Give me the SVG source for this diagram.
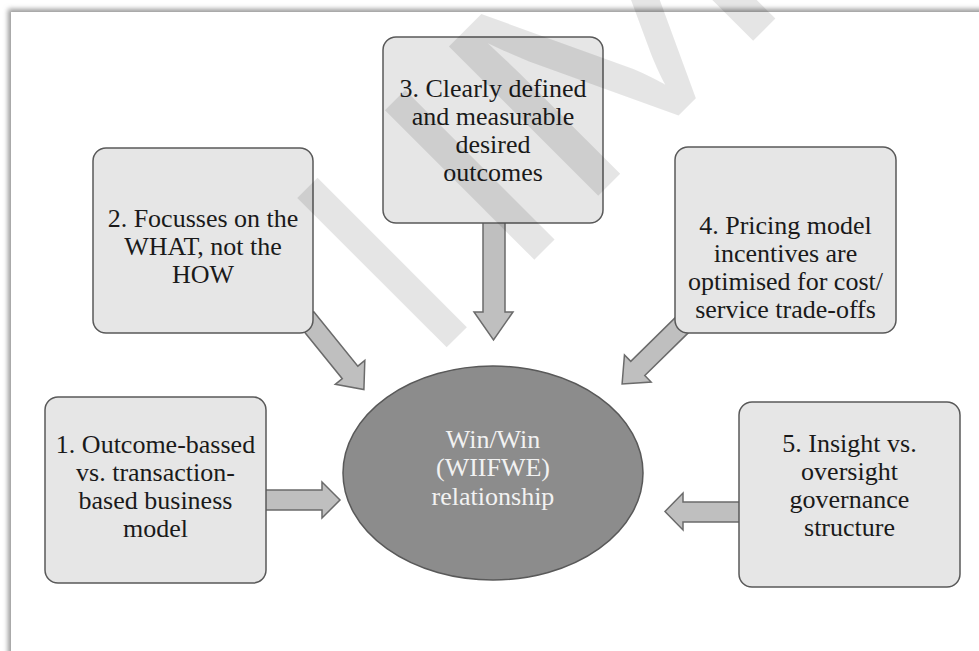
<svg xmlns="http://www.w3.org/2000/svg" width="979" height="651" viewBox="0 0 979 651">
<defs>
<filter id="blur" x="-5%" y="-5%" width="110%" height="110%"><feGaussianBlur stdDeviation="2.5"/></filter>
<style>
.box{fill:#e6e6e6;stroke:#595959;stroke-width:1.5}
.arr{fill:#bfbfbf;stroke:#6b6b6b;stroke-width:1.5;stroke-linejoin:miter}
.t{font-family:"Liberation Serif","DejaVu Serif",serif;font-size:26px;fill:#1a1a1a;text-anchor:middle}
.tw{fill:#f2f2f2}
.wm{font-family:"Liberation Sans",Arial,sans-serif;font-size:307px;fill:#000;fill-opacity:0.1}
</style>
</defs>
<rect x="0" y="0" width="979" height="651" fill="#ffffff"/>
<rect x="8" y="9" width="1000" height="700" fill="#9a9a9a" filter="url(#blur)"/>
<rect x="11" y="12" width="1000" height="700" fill="#ffffff"/>

<g id="connectors">
<polygon class="arr" points="483,220 505,220 505,312 513,312 493.5,340 474,312 483,312"/>
<polygon class="arr" points="262,490 322,490 322,482 340,500 322,518 322,510 262,510"/>
<polygon class="arr" points="742,502 683,502 683,493 665,511.5 683,530 683,522 742,522"/>
<polygon class="arr" transform="translate(306,318) rotate(51)" points="0,-10 70,-10 70,-19 92,0 70,19 70,10 0,10"/>
<polygon class="arr" transform="translate(682,325) rotate(135.5)" points="0,-10 62,-10 62,-19 84,0 62,19 62,10 0,10"/>
</g>

<g id="node3">
<rect class="box" x="383" y="37" width="220" height="186" rx="13"/>
<text class="t" x="493" y="97">3. Clearly defined</text>
<text class="t" x="493" y="125">and measurable</text>
<text class="t" x="493" y="153">desired</text>
<text class="t" x="493" y="181">outcomes</text>
</g>
<g id="node2">
<rect class="box" x="93" y="148" width="220" height="185" rx="13"/>
<text class="t" x="203" y="227">2. Focusses on the</text>
<text class="t" x="203" y="255">WHAT, not the</text>
<text class="t" x="203" y="283">HOW</text>
</g>
<g id="node4">
<rect class="box" x="675" y="147" width="221" height="186" rx="13"/>
<text class="t" x="785.5" y="234">4. Pricing model</text>
<text class="t" x="785.5" y="262">incentives are</text>
<text class="t" x="785.5" y="290">optimised for cost/</text>
<text class="t" x="785.5" y="318">service trade-offs</text>
</g>
<g id="node1">
<rect class="box" x="45" y="397" width="221" height="186" rx="13"/>
<text class="t" x="155.5" y="453">1. Outcome-bassed</text>
<text class="t" x="155.5" y="481">vs. transaction-</text>
<text class="t" x="155.5" y="509">based business</text>
<text class="t" x="155.5" y="537">model</text>
</g>
<g id="node5">
<rect class="box" x="739" y="402" width="221" height="185" rx="13"/>
<text class="t" x="849.5" y="452">5. Insight vs.</text>
<text class="t" x="849.5" y="480">oversight</text>
<text class="t" x="849.5" y="508">governance</text>
<text class="t" x="849.5" y="536">structure</text>
</g>
<g id="center">
<ellipse cx="493" cy="473" rx="150" ry="107" fill="#8c8c8c" stroke="#595959" stroke-width="1.5"/>
<text class="t tw" x="493" y="448">Win/Win</text>
<text class="t tw" x="493" y="476">(WIIFWE)</text>
<text class="t tw" x="493" y="505">relationship</text>
</g>

<g id="watermark" transform="translate(457,337) rotate(-45)">
<text class="wm" x="-43" y="0">I</text>
<text class="wm" x="81" y="0">I</text>
<text class="wm" transform="translate(169,0) scale(1.22,1)" x="0" y="0">M</text>
</g>
</svg>
